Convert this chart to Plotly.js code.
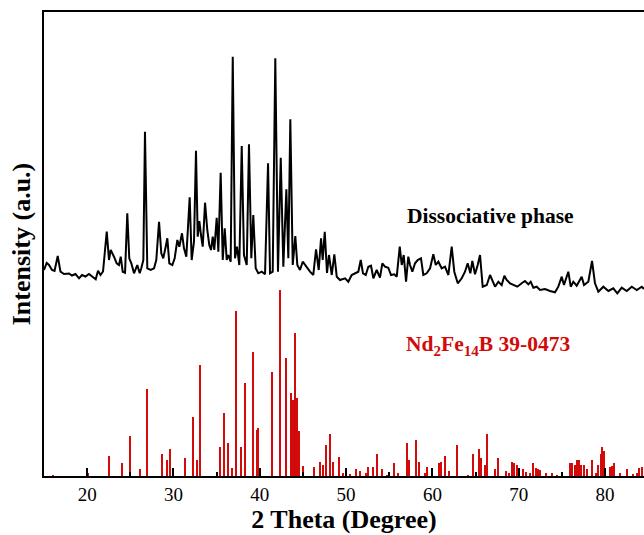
<!DOCTYPE html>
<html>
<head>
<meta charset="utf-8">
<script src="https://cdn.plot.ly/plotly-3.0.1.min.js"></script>
<style>
html,body{margin:0;padding:0;background:#fff;overflow:hidden;}
#chart{width:644px;height:535px;}
</style>
</head>
<body>
<div id="chart"></div>
<script>
// Measured XRD pattern (2θ in degrees, intensity in arbitrary units)
var measTheta = [15.00,15.31,15.58,15.93,16.22,16.59,16.91,17.32,17.90,18.24,18.65,19.06,19.40,19.81,20.21,20.62,20.99,21.26,21.55,21.84,
22.27,22.53,22.73,23.11,23.42,23.69,23.89,24.12,24.39,24.65,24.88,25.12,25.43,25.81,26.09,26.27,26.51,26.70,26.97,27.36,
27.75,28.01,28.33,28.59,28.82,29.10,29.29,29.52,29.87,30.14,30.45,30.68,30.99,31.22,31.49,31.88,32.11,32.38,32.61,32.81,
33.00,33.19,33.39,33.66,33.92,34.15,34.35,34.55,34.73,35.01,35.20,35.47,35.71,35.94,36.17,36.36,36.63,36.87,37.13,37.36,
37.63,37.91,38.17,38.49,38.75,39.02,39.25,39.53,39.83,40.23,40.61,40.96,41.19,41.50,41.80,42.11,42.43,42.73,43.08,43.31,
43.54,43.82,44.12,44.35,44.66,44.98,45.36,45.82,46.20,46.52,46.83,47.10,47.29,47.53,47.79,48.02,48.34,48.64,48.92,49.30,
49.88,50.26,50.65,51.12,51.42,51.70,51.96,52.28,52.58,52.89,53.16,53.55,53.93,54.20,54.51,54.89,55.21,55.59,55.87,56.22,
56.45,56.68,56.95,57.21,57.41,57.68,57.99,58.30,58.68,58.95,59.34,59.73,60.11,60.39,60.69,61.08,61.46,61.85,62.24,62.54,
62.94,63.40,63.78,64.09,64.40,64.63,64.94,65.25,65.52,65.83,66.30,66.68,66.99,67.26,67.64,68.03,68.34,68.61,69.00,69.38,
69.84,70.35,70.73,71.12,71.39,71.70,72.09,72.47,73.05,73.63,74.21,74.59,74.99,75.25,75.75,76.03,76.33,76.72,77.30,77.57,
78.07,78.50,78.84,79.23,79.81,80.39,80.96,81.43,81.94,82.52,83.10,83.68,84.26,84.52];
var measInt = [206,213,211,206,205,220,204.3,202,202.5,200.5,202,197.7,201,199.5,202,199.5,196.7,205.3,201,204.5,
244.3,216,226,219.3,212.7,211,219.3,204.3,203.3,262.7,217.7,212.7,202.7,211,202.7,207.7,216,344.3,207.7,206,
207.7,216,254.3,222.7,217.7,229.3,237.7,212.7,211,217.7,236,229.3,242.7,227.7,219.3,278.7,216,234.3,325.3,239.3,
255,241,229.3,273.3,246,231,226,239.3,226,258.3,224.3,303.3,216,247.7,216,221,214.3,419.3,217.7,229.3,
211,330,221,211,331.7,217.7,261,207.7,202.7,204.3,201.7,312.7,202.7,204.3,417.7,204.3,318.3,209.3,286.7,217.7,
356.7,211,240,211,206,214.3,209.3,204.3,201,226.7,206,237.7,216,244.3,203,221,201,221.7,199.3,196,
197.7,194.3,201,203,204.3,216,202.7,201,209.3,210.3,197.7,206,198.3,212.7,209.3,208.3,201,201.7,199.3,229.3,
211,221,194.3,219.3,211,204.3,212.7,216,217.7,201,202.7,207.7,221.7,211,214.3,207.7,209.3,201,229.3,204.3,
192.7,197.7,204.3,212.7,202.7,215,201.7,211,221,189.3,191,201,194.3,189.3,194.3,191,200.3,196,192.7,191,
189.3,192.7,195,191.7,194.3,188.3,189.3,186,187,185,183.7,189.3,199.3,191,204.3,189.3,194.3,190.3,199.3,191,
194.3,215,192.7,184.3,189.3,185,187.7,182.7,188.3,185,189.3,186,189.3,187];

// Reference pattern Nd2Fe14B (PDF 39-0473): stick positions and relative heights
var refTheta = [16.01,20.13,22.57,24.07,24.97,26.16,26.93,28.67,29.25,29.63,31.37,32.26,32.69,33.04,35.43,35.82,36.36,36.82,37.28,37.83,
38.26,39.22,39.65,39.80,41.45,42.35,43.04,43.62,43.82,44.05,44.28,44.58,45.01,46.25,46.98,47.33,47.71,48.17,48.52,49.22,
49.68,50.46,51.15,51.62,52.28,52.54,53.09,53.62,54.20,54.71,55.55,55.98,57.03,57.33,58.07,58.45,59.15,59.38,60.73,61.00,
61.50,61.89,62.89,64.09,64.71,65.37,65.67,66.10,66.33,67.26,67.64,68.53,68.91,69.26,69.49,69.77,70.54,70.85,71.31,71.70,
71.97,72.21,72.47,73.17,73.83,74.48,75.95,76.14,76.53,76.80,77.03,77.19,77.57,77.88,78.46,78.96,79.23,79.51,79.66,79.85,
80.62,80.85,81.08,81.74,82.52,83.28,83.68,83.98,84.33];
var refInt = [1,3,20,12.7,40.3,6.7,87,21.7,16,27,17.7,59,16,111,29.3,62.7,32.7,8.3,165,29,
92.7,124,46,47.7,103.7,185.7,118.3,83,76,142.7,77.7,45.3,10.3,8.7,14,10.7,31,42,14,19.3,
3.3,1.7,7,5.3,3.3,8.7,8.7,22,7,1,12.7,3.3,32.7,16,36.3,14.3,2.7,8.7,12.7,14.3,
20,5.3,31,1,21.7,26.7,17.7,10.7,42,6.7,17.7,5,3.3,14.3,13.3,11,7,4.3,3.3,12.7,
8.3,7,6,3.3,2.7,1,12.7,12.7,11,16,16,11,11,7,16,3.3,10.7,21.7,29.3,25.3,
8.7,10,12.7,3.3,7,2,2.7,8.3,8.7];

var xTickVals = [20,30,40,50,60,70,80];
var xTickText = ['20','30','40','50','60','70','80'];

var serif = '"Liberation Serif", "Times New Roman", Times, serif';
var red = '#d20a0a';

var traces = [
  {
    type: 'bar',
    x: refTheta,
    y: refInt,
    width: 0.24,
    marker: {color: red, line: {width: 0}},
    hoverinfo: 'x+y',
    showlegend: false
  },
  {
    type: 'scatter',
    mode: 'lines',
    x: measTheta,
    y: measInt,
    line: {color: '#000', width: 2},
    hoverinfo: 'x+y',
    showlegend: false
  }
];

var layout = {
  width: 644,
  height: 535,
  margin: {l: 44, r: 0, t: 12, b: 59},
  paper_bgcolor: '#fff',
  plot_bgcolor: '#fff',
  bargap: 0,
  font: {family: serif, color: '#000', size: 18},
  xaxis: {
    range: [15, 84.52],
    tickvals: xTickVals,
    ticktext: xTickText,
    ticks: 'inside',
    ticklen: 8,
    tickwidth: 2,
    tickcolor: '#000',
    minor: {dtick: 5, tick0: 0, ticks: 'inside', ticklen: 4, tickwidth: 2, tickcolor: '#000', showgrid: false},
    showline: true,
    linecolor: '#000',
    linewidth: 2,
    mirror: true,
    showgrid: false,
    zeroline: false,
    tickfont: {family: serif, size: 19, color: '#000'},
    title: {text: '<b>2 Theta (Degree)</b>', font: {family: serif, size: 26, color: '#000'}, standoff: 2},
    automargin: false
  },
  yaxis: {
    range: [0, 464],
    showticklabels: false,
    ticks: '',
    showline: true,
    linecolor: '#000',
    linewidth: 2,
    showgrid: false,
    zeroline: false,
    title: {text: '<b>Intensity (a.u.)</b>', font: {family: serif, size: 26, color: '#000'}, standoff: 4},
    automargin: false
  },
  annotations: [
    {
      x: 56.83, y: 260, xref: 'x', yref: 'y',
      text: '<b>Dissociative phase</b>',
      showarrow: false, xanchor: 'left', yanchor: 'middle',
      font: {family: serif, size: 21.5, color: '#000'}
    },
    {
      x: 56.71, y: 131, xref: 'x', yref: 'y',
      text: '<b>Nd<sub>2</sub>Fe<sub>14</sub>B 39-0473</b>',
      showarrow: false, xanchor: 'left', yanchor: 'middle',
      font: {family: serif, size: 21.5, color: red}
    }
  ]
};

Plotly.newPlot('chart', traces, layout, {displayModeBar: false, staticPlot: true});
</script>
</body>
</html>
